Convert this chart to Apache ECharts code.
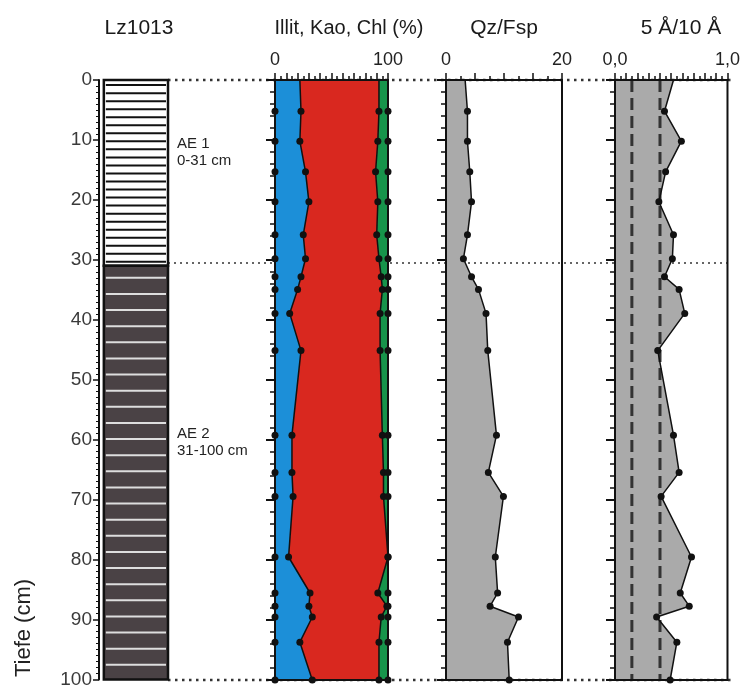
<!DOCTYPE html>
<html>
<head>
<meta charset="utf-8">
<script src="https://cdn.jsdelivr.net/npm/echarts@6/dist/echarts.min.js"></script>
<style>
  html, body { margin: 0; padding: 0; background: #fff; }
  #chart { width: 743px; height: 689px; }
</style>
</head>
<body>
<div id="chart"></div>
<script>
// sample depths (cm)
const depths = [0, 5.2, 10.2, 15.3, 20.3, 25.8, 29.8, 32.8, 34.9, 38.9, 45.1, 59.2, 65.4, 69.4, 79.5, 85.5, 87.7, 89.5, 93.7, 100];
// clay minerals (%)
const illite    = [22, 23, 22, 27, 30, 25, 27, 23, 20, 13, 23, 15, 15, 16, 12, 31, 30, 33, 22, 33];
const kaolinite = [70, 69, 69, 62, 61, 65, 65, 71, 75, 80, 70, 80, 81, 80, 88, 60, 69, 61, 70, 59];
const chlorite  = [8, 8, 9, 11, 9, 10, 8, 6, 5, 7, 7, 5, 4, 4, 0, 9, 1, 6, 8, 8];
// quartz / feldspar ratio
const qzFsp = [3.3, 3.7, 3.7, 4.1, 4.4, 3.7, 3.0, 4.4, 5.6, 6.9, 7.2, 8.7, 7.3, 9.9, 8.5, 8.9, 7.6, 12.5, 10.6, 10.9];
// 5 A / 10 A intensity ratio
const ratio5to10 = [0.52, 0.44, 0.59, 0.45, 0.39, 0.52, 0.51, 0.44, 0.57, 0.62, 0.38, 0.52, 0.57, 0.41, 0.68, 0.58, 0.66, 0.37, 0.55, 0.49];
const ratioRefs = [0.15, 0.4];
// profile layers
const layerNames   = ['AE 1', 'AE 2'];
const layerTops    = [0, 31];
const layerBottoms = [31, 100];
// dotted horizon lines
const horizonDepths = [0, 30.5, 100];

const FONT = '"Liberation Sans", Arial, sans-serif';
const INK = '#111';

const layerStyles = [
  { fill: '#ffffff', stripe: '#111', first: 0.85, step: 1.34 },
  { fill: '#4a4245', stripe: '#dedede', first: 2.0, step: 2.69 }
];

const chart = echarts.init(document.getElementById('chart'));

const cumIllite = illite.slice();
const cumKao = illite.map((v, i) => v + kaolinite[i]);
const cumAll = cumKao.map((v, i) => v + chlorite[i]);
const zeros = depths.map(() => 0);

function panelGrid(left, width) {
  return { left: left, top: 80, width: width, height: 600, show: true, borderColor: INK, borderWidth: 2, backgroundColor: 'transparent', z: 5 };
}

function topAxis(idx, max, interval, fmt) {
  return {
    gridIndex: idx, type: 'value', position: 'top', min: 0, max: max, interval: interval, z: 6,
    axisLine: { show: true, onZero: false, lineStyle: { color: INK, width: 2 } },
    axisTick: { show: true, length: 7, lineStyle: { color: INK, width: 1.5 } },
    minorTick: { show: true, splitNumber: 2, length: 4, lineStyle: { color: INK, width: 1.5 } },
    splitLine: { show: false },
    axisLabel: {
      fontSize: 18, color: '#222', fontFamily: FONT, margin: 11,
      formatter: v => (v === 0 || v === max) ? fmt(v) : ''
    }
  };
}

function depthAxis(idx) {
  return {
    gridIndex: idx, type: 'value', inverse: true, min: 0, max: 100, interval: 10, z: 6,
    axisLine: { show: true, onZero: false, lineStyle: { color: INK, width: 2 } },
    axisTick: { show: true, length: 9, lineStyle: { color: INK, width: 2 } },
    minorTick: { show: true, splitNumber: 5, length: 5, lineStyle: { color: INK, width: 1.5 } },
    splitLine: { show: false },
    axisLabel: { show: false }
  };
}

function fillSeries(idx, lefts, rights, color) {
  return {
    type: 'custom', xAxisIndex: idx, yAxisIndex: idx, silent: true, z: 1, clip: false,
    data: [[0, 50]],
    renderItem: function (params, api) {
      const pts = [];
      for (let i = 0; i < depths.length; i++) pts.push(api.coord([rights[i], depths[i]]));
      for (let i = depths.length - 1; i >= 0; i--) pts.push(api.coord([lefts[i], depths[i]]));
      return { type: 'polygon', shape: { points: pts }, style: { fill: color } };
    }
  };
}

function profileLine(idx, xs) {
  return {
    type: 'line', xAxisIndex: idx, yAxisIndex: idx, silent: true, z: 4, clip: false,
    data: depths.map((d, i) => i === 0 ? { value: [xs[i], d], symbol: 'none' } : [xs[i], d]),
    symbol: 'circle', symbolSize: 7, showSymbol: true,
    lineStyle: { color: INK, width: 1.5 }, itemStyle: { color: INK }
  };
}

const series = [];

// dotted horizon lines behind the panels
horizonDepths.forEach((d, i) => {
  series.push({
    type: 'line', xAxisIndex: 0, yAxisIndex: 0, silent: true, z: 0, symbol: 'none', clip: false,
    data: [[0, d], [1, d]],
    lineStyle: { color: '#333', width: i === 1 ? 1.5 : 2.5, type: i === 1 ? [2, 4] : [2.5, 4.5] }
  });
});

// lithology column
series.push({
  type: 'custom', xAxisIndex: 1, yAxisIndex: 1, silent: true, z: 2, clip: false,
  data: layerTops.map((t, i) => [0.5, (t + layerBottoms[i]) / 2]),
  renderItem: function (params, api) {
    const i = params.dataIndex;
    const st = layerStyles[i];
    const p0 = api.coord([0.07, layerTops[i]]);
    const p1 = api.coord([1, layerBottoms[i]]);
    const children = [{
      type: 'rect',
      shape: { x: p0[0], y: p0[1], width: p1[0] - p0[0], height: p1[1] - p0[1] },
      style: { fill: st.fill }
    }];
    for (let d = layerTops[i] + st.first; d < layerBottoms[i] - 0.5; d += st.step) {
      const y = api.coord([0, d])[1];
      children.push({ type: 'line', shape: { x1: p0[0] + 2, y1: y, x2: p1[0] - 2, y2: y }, style: { stroke: st.stripe, lineWidth: 2 } });
    }
    children.push({
      type: 'rect',
      shape: { x: p0[0], y: p0[1], width: p1[0] - p0[0], height: p1[1] - p0[1] },
      style: { fill: 'none', stroke: INK, lineWidth: 2.5 }
    });
    return { type: 'group', children: children };
  }
});

// clay minerals
series.push(fillSeries(2, zeros, cumIllite, '#1c8fd8'));
series.push(fillSeries(2, cumIllite, cumKao, '#d9281f'));
series.push(fillSeries(2, cumKao, cumAll, '#17944b'));
[zeros, cumIllite, cumKao, cumAll].forEach(xs => series.push(profileLine(2, xs)));

// Qz/Fsp
series.push(fillSeries(3, zeros, qzFsp, '#aaaaaa'));
series.push(profileLine(3, qzFsp));

// 5A/10A
series.push(fillSeries(4, zeros, ratio5to10, '#aaaaaa'));
ratioRefs.forEach(r => {
  series.push({
    type: 'line', xAxisIndex: 4, yAxisIndex: 4, silent: true, z: 3, symbol: 'none', clip: false,
    data: [[r, 0], [r, 100]],
    lineStyle: { color: '#333', width: 3, type: [12, 6] }
  });
});
series.push(profileLine(4, ratio5to10));

const titleStyle = { fontSize: 21, fontFamily: FONT, fill: '#1a1a1a', align: 'center', verticalAlign: 'middle' };

const option = {
  animation: false,
  backgroundColor: '#fff',
  grid: [
    { left: 168, top: 80, width: 563, height: 600, show: false },
    { left: 99, top: 80, width: 69, height: 600, show: false },
    panelGrid(275, 113),
    panelGrid(446, 116),
    panelGrid(615, 116)
  ],
  xAxis: [
    { gridIndex: 0, type: 'value', min: 0, max: 1, show: false },
    { gridIndex: 1, type: 'value', min: 0, max: 1, show: false },
    topAxis(2, 100, 10, v => String(v)),
    topAxis(3, 20, 5, v => String(v)),
    topAxis(4, 1, 0.1, v => v.toFixed(1).replace('.', ','))
  ],
  yAxis: [
    { gridIndex: 0, type: 'value', inverse: true, min: 0, max: 100, show: false },
    {
      gridIndex: 1, type: 'value', inverse: true, min: 0, max: 100, interval: 10, z: 6,
      axisLine: { show: true, onZero: false, lineStyle: { color: INK, width: 2 } },
      axisTick: { show: true, length: 6, lineStyle: { color: INK, width: 1.5 } },
      minorTick: { show: true, splitNumber: 10, length: 3, lineStyle: { color: INK, width: 1 } },
      splitLine: { show: false },
      axisLabel: { fontSize: 19, color: '#3a3a3a', fontFamily: FONT, margin: 7 }
    },
    depthAxis(2),
    depthAxis(3),
    depthAxis(4)
  ],
  graphic: [
    { type: 'text', x: 139, y: 28, style: Object.assign({ text: 'Lz1013' }, titleStyle) },
    { type: 'text', x: 349, y: 28, style: Object.assign({ text: 'Illit, Kao, Chl (%)' }, titleStyle, { fontSize: 20 }) },
    { type: 'text', x: 504, y: 28, style: Object.assign({ text: 'Qz/Fsp' }, titleStyle) },
    { type: 'text', x: 681, y: 28, style: Object.assign({ text: '5 Å/10 Å' }, titleStyle) },
    {
      type: 'text', x: 24, y: 628, rotation: Math.PI / 2,
      style: { text: 'Tiefe (cm)', fontSize: 22, fontFamily: FONT, fill: '#222', align: 'center', verticalAlign: 'middle' }
    },
    {
      type: 'text', x: 177, y: 135,
      style: { text: layerNames[0] + '\n' + layerTops[0] + '-' + layerBottoms[0] + ' cm', fontSize: 15, lineHeight: 17, fontFamily: FONT, fill: '#222' }
    },
    {
      type: 'text', x: 177, y: 425,
      style: { text: layerNames[1] + '\n' + layerTops[1] + '-' + layerBottoms[1] + ' cm', fontSize: 15, lineHeight: 17, fontFamily: FONT, fill: '#222' }
    }
  ],
  series: series
};

chart.setOption(option);
</script>
</body>
</html>
